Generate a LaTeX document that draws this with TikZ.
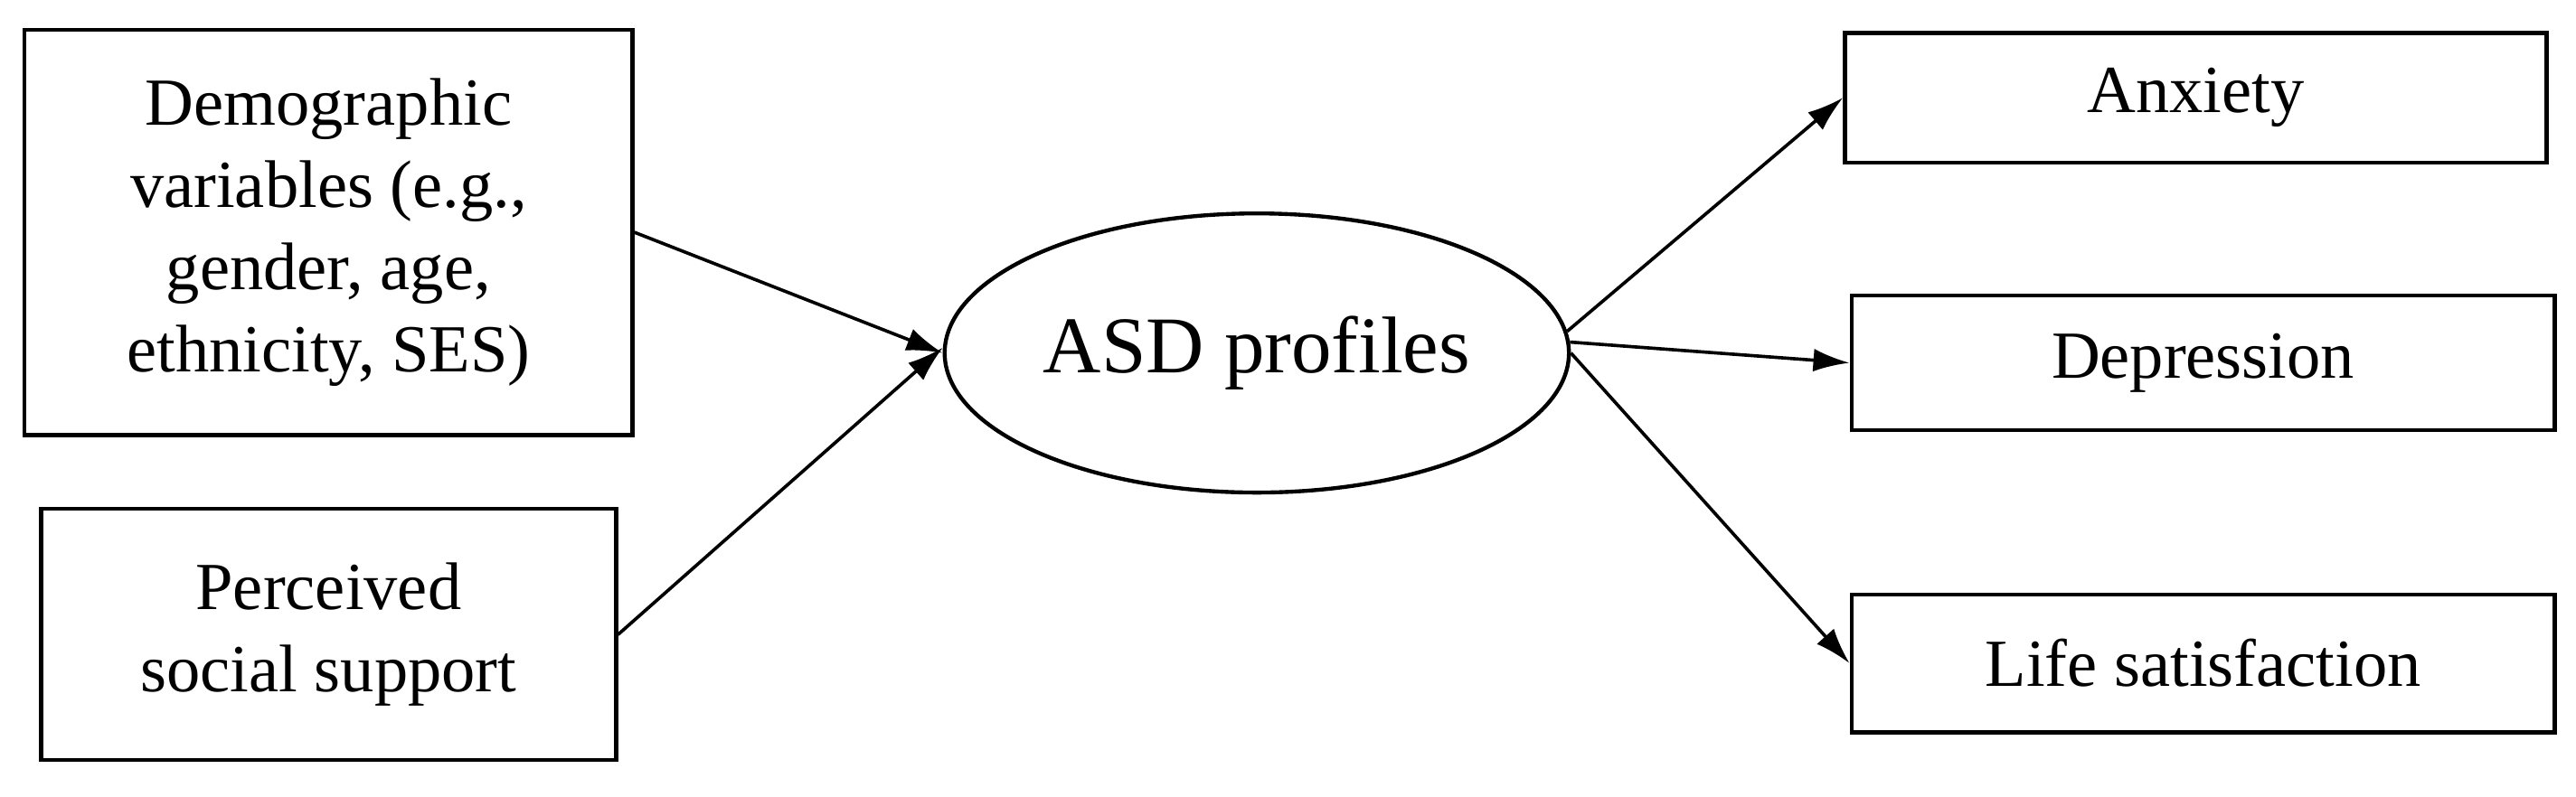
\documentclass[tikz,border=0pt]{standalone}
\usepackage{fontspec}
\setmainfont{Liberation Serif}
\usetikzlibrary{arrows.meta,shapes.geometric}
\begin{document}
\begin{tikzpicture}[x=0.5pt,y=-0.5pt,
  box/.style={draw,line width=1.2pt,font=\fontsize{20.5}{25}\selectfont,align=center,inner sep=0pt},
  arr/.style={-{Latex[length=11pt,width=7pt]},line width=1pt}]
\useasboundingbox (0,0) rectangle (1568,485.4);
\node[box,minimum width=370pt*0.5,minimum height=247pt*0.5] (demo) at (200,141.5) {Demographic\\variables (e.g.,\\gender, age,\\ethnicity, SES)};
\node[box,minimum width=350pt*0.5,minimum height=153pt*0.5] (perc) at (200,386.5) {Perceived\\social support};
\node[draw,ellipse,line width=1.2pt,minimum width=190pt,minimum height=85pt,inner sep=0pt,font=\fontsize{24.5}{29}\selectfont] (asd) at (765,215) {ASD profiles};
\node[box,minimum width=427pt*0.5,minimum height=79pt*0.5] (anx) at (1336.5,59.5) {Anxiety};
\node[box,minimum width=428pt*0.5,minimum height=82pt*0.5] (dep) at (1341,221) {Depression};
\node[box,minimum width=428pt*0.5,minimum height=84pt*0.5] (life) at (1341,404) {Life satisfaction};
\draw[arr] (demo.east) -- (asd.180.5);
\draw[arr] (perc.east) -- (asd.179);
\draw[arr] (asd.4) -- (anx.west);
\draw[arr] (asd.2) -- (dep.west);
\draw[arr] (asd.0) -- (life.west);
\end{tikzpicture}
\end{document}
